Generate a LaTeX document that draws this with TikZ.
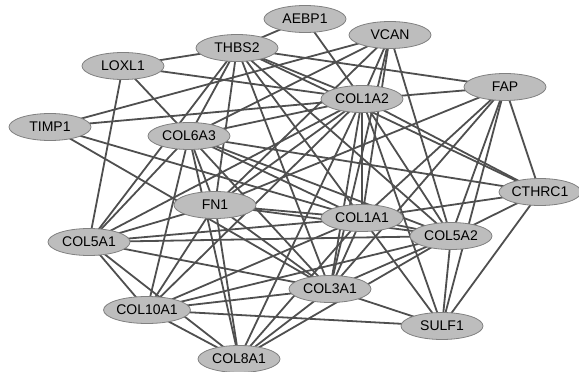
\documentclass[tikz,border=0pt]{standalone}
\usepackage{fontspec}
\setmainfont{Liberation Sans}
\usetikzlibrary{shapes.geometric}
\pgfdeclarelayer{bg}
\pgfsetlayers{bg,main}
\definecolor{nodefill}{HTML}{BDBDBD}
\definecolor{nodeline}{HTML}{808080}
\definecolor{edgecol}{HTML}{4F4F4F}
\tikzset{
  gene/.style={ellipse, fill=nodefill, draw=nodeline, line width=0.8pt,
    minimum width=82pt, minimum height=27pt, inner sep=0pt,
    font=\fontsize{14}{16}\selectfont},
  link/.style={draw=edgecol, line width=1.8pt}
}
\newcommand{\lk}[2]{\draw[link] (#1.center) -- (#2.center);}
\begin{document}
\begin{tikzpicture}[x=1pt,y=-1pt]
\useasboundingbox (0,0) rectangle (579,372);
\node[gene] (AEBP1) at (305,19) {AEBP1};
\node[gene] (THBS2) at (237,48) {THBS2};
\node[gene] (VCAN) at (390,35) {VCAN};
\node[gene] (LOXL1) at (123,66) {LOXL1};
\node[gene] (FAP) at (505,87) {FAP};
\node[gene] (COL1A2) at (362,99) {COL1A2};
\node[gene] (TIMP1) at (50,127) {TIMP1};
\node[gene] (COL6A3) at (189,136) {COL6A3};
\node[gene] (CTHRC1) at (540,192) {CTHRC1};
\node[gene] (FN1) at (215,205) {FN1};
\node[gene] (COL1A1) at (362,218) {COL1A1};
\node[gene] (COL5A2) at (451,236) {COL5A2};
\node[gene] (COL5A1) at (89,242) {COL5A1};
\node[gene] (COL3A1) at (330,289) {COL3A1};
\node[gene] (COL10A1) at (147,310) {COL10A1};
\node[gene] (SULF1) at (442,326) {SULF1};
\node[gene] (COL8A1) at (239,359) {COL8A1};
\begin{pgfonlayer}{bg}
\lk{AEBP1}{THBS2}
\lk{AEBP1}{COL1A2}
\lk{LOXL1}{THBS2}
\lk{LOXL1}{COL1A2}
\lk{LOXL1}{COL5A1}
\lk{LOXL1}{COL6A3}
\lk{TIMP1}{VCAN}
\lk{TIMP1}{COL1A2}
\lk{TIMP1}{COL1A1}
\lk{TIMP1}{COL3A1}
\lk{THBS2}{FAP}
\lk{THBS2}{COL1A2}
\lk{THBS2}{COL6A3}
\lk{THBS2}{FN1}
\lk{THBS2}{COL5A1}
\lk{THBS2}{COL1A1}
\lk{THBS2}{COL5A2}
\lk{THBS2}{COL3A1}
\lk{THBS2}{CTHRC1}
\lk{VCAN}{COL6A3}
\lk{VCAN}{COL1A2}
\lk{VCAN}{COL1A1}
\lk{VCAN}{COL3A1}
\lk{VCAN}{COL5A2}
\lk{VCAN}{FN1}
\lk{FAP}{COL1A2}
\lk{FAP}{CTHRC1}
\lk{FAP}{COL1A1}
\lk{FAP}{COL5A2}
\lk{FAP}{SULF1}
\lk{FAP}{FN1}
\lk{FAP}{COL3A1}
\lk{COL1A2}{COL6A3}
\lk{COL1A2}{FN1}
\lk{COL1A2}{COL1A1}
\lk{COL1A2}{COL5A2}
\lk{COL1A2}{CTHRC1}
\lk{COL1A2}{COL3A1}
\lk{COL1A2}{COL5A1}
\lk{COL1A2}{COL10A1}
\lk{COL1A2}{COL8A1}
\lk{COL1A2}{SULF1}
\lk{COL6A3}{FN1}
\lk{COL6A3}{COL1A1}
\lk{COL6A3}{COL5A2}
\lk{COL6A3}{COL3A1}
\lk{COL6A3}{COL5A1}
\lk{COL6A3}{COL10A1}
\lk{COL6A3}{COL8A1}
\lk{COL6A3}{CTHRC1}
\lk{FN1}{COL1A1}
\lk{FN1}{COL5A2}
\lk{FN1}{COL3A1}
\lk{FN1}{COL5A1}
\lk{FN1}{COL10A1}
\lk{FN1}{COL8A1}
\lk{COL1A1}{COL5A2}
\lk{COL1A1}{COL3A1}
\lk{COL1A1}{COL5A1}
\lk{COL1A1}{COL10A1}
\lk{COL1A1}{COL8A1}
\lk{COL1A1}{SULF1}
\lk{COL1A1}{CTHRC1}
\lk{COL5A2}{COL3A1}
\lk{COL5A2}{COL5A1}
\lk{COL5A2}{COL10A1}
\lk{COL5A2}{COL8A1}
\lk{COL5A2}{SULF1}
\lk{COL5A2}{CTHRC1}
\lk{COL3A1}{COL5A1}
\lk{COL3A1}{COL10A1}
\lk{COL3A1}{COL8A1}
\lk{COL3A1}{SULF1}
\lk{COL5A1}{COL10A1}
\lk{COL5A1}{COL8A1}
\lk{COL10A1}{COL8A1}
\lk{COL10A1}{SULF1}
\lk{CTHRC1}{SULF1}
\end{pgfonlayer}
\end{tikzpicture}
\end{document}
